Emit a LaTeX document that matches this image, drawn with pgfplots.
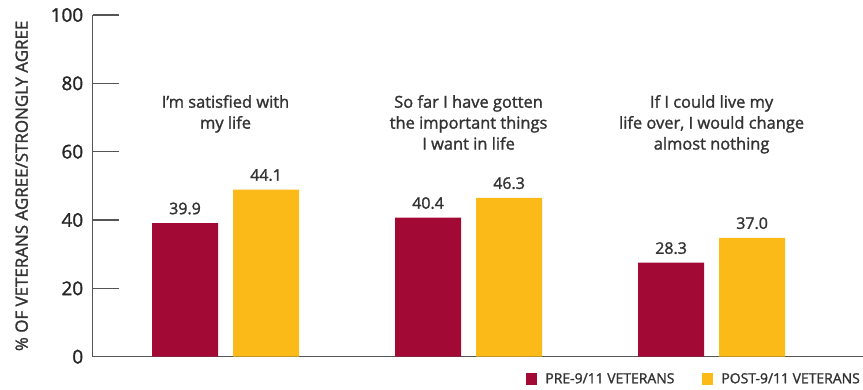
\documentclass[border=0pt]{standalone}
\usepackage{pgfplots}
\pgfplotsset{compat=1.18}
\usepackage{fontspec}
\setmainfont{Open Sans}[FakeBold=1.5]
\definecolor{prered}{HTML}{A20A35}
\definecolor{postyel}{HTML}{FBBA18}
\definecolor{txt}{HTML}{333333}
\definecolor{axl}{HTML}{555555}
\begin{document}
\begin{tikzpicture}
\begin{axis}[
  scale only axis,
  width=770.3bp, height=341.7bp,
  xmin=-0.5465, xmax=2.623,
  ymin=0, ymax=100,
  axis lines*=left,
  axis line style={axl, line width=1.2bp},
  xtick=\empty,
  ytick={0,20,40,60,80,100},
  tick align=inside,
  major tick length=26bp,
  ytick style={axl, line width=1.2bp},
  /pgf/number format/assume math mode=true,
  yticklabel style={font=\fontsize{19}{21}\selectfont, text=black!85, xshift=-6bp},
  ylabel={\% OF VETERANS AGREE/STRONGLY AGREE},
  ylabel style={font=\fontsize{17}{19}\selectfont, text=txt, at={(axis description cs:-0.0922,0.5)}, anchor=center},
  ybar, bar width=0.2716,
  nodes near coords,
  point meta=explicit symbolic,
  every node near coord/.append style={font=\fontsize{16}{18}\selectfont, text=txt, inner sep=0pt, anchor=south, yshift=8.5bp},
  legend style={draw=none, fill=none, at={(1,0)}, anchor=east, yshift=-22.3bp, xshift=2bp, legend columns=2,
    font=\fontsize{14}{16}\selectfont, text=txt,
    /tikz/every even column/.append style={column sep=26bp},
    /tikz/every odd column/.append style={column sep=6bp}},
  legend image code/.code={\fill[#1,draw=none] (0bp,-5.5bp) rectangle (11bp,5.5bp);},
]
\addplot[fill=prered, draw=none, bar shift=-0.1667] table[x=x, y=y, meta=label] {
x y label
0 39.1 39.9
1 40.7 40.4
2 27.5 28.3
};
\addlegendentry{PRE-9/11 VETERANS}
\addplot[fill=postyel, draw=none, bar shift=0.1667] table[x=x, y=y, meta=label] {
x y label
0 48.9 44.1
1 46.5 46.3
2 34.8 37.0
};
\addlegendentry{POST-9/11 VETERANS}
\node[anchor=north, align=center, inner sep=0pt, text=txt, font=\fontsize{16.5}{21}\selectfont] at (axis cs:0,76.6) {I’m satisfied with\\my life};
\node[anchor=north, align=center, inner sep=0pt, text=txt, font=\fontsize{16.5}{21}\selectfont] at (axis cs:1,76.6) {So far I have gotten\\the important things\\I want in life};
\node[anchor=north, align=center, inner sep=0pt, text=txt, font=\fontsize{16.5}{21}\selectfont] at (axis cs:2,76.6) {If I could live my\\life over, I would change\\almost nothing};
\end{axis}
\pgfresetboundingbox
\path[use as bounding box] (-92.7bp,-33.3bp) rectangle (770.3bp,356.7bp);
\end{tikzpicture}
\end{document}
